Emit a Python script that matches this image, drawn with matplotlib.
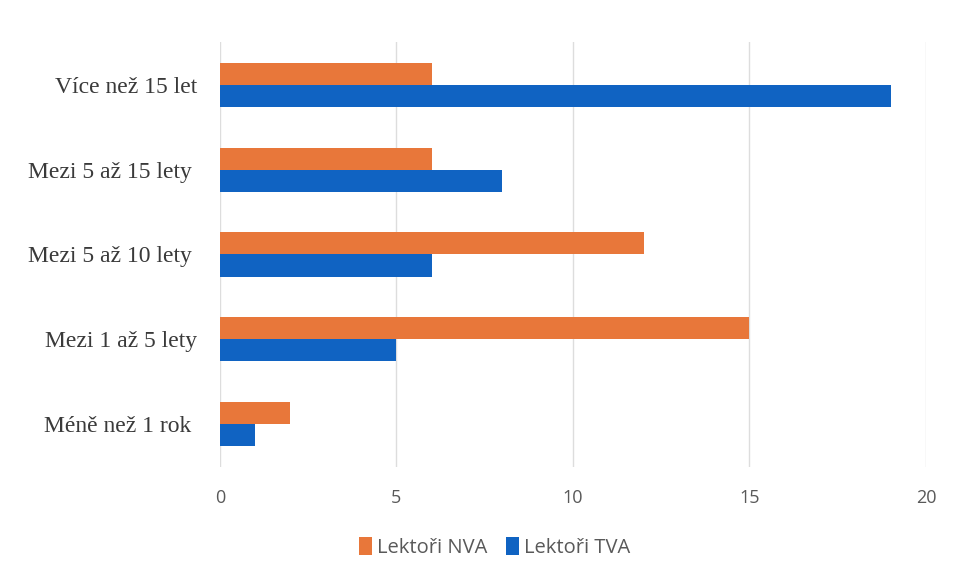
import numpy as np
import matplotlib.pyplot as plt

# kategorie (zdola nahoru) a hodnoty
kategorie = ['Méně než 1 rok ', 'Mezi 1 až 5 lety', 'Mezi 5 až 10 lety ',
             'Mezi 5 až 15 lety ', 'Více než 15 let']
lektori_nva = [2, 15, 12, 6, 6]
lektori_tva = [1, 5, 6, 8, 19]
x_ticks = [0, 5, 10, 15, 20]

barva_nva = '#E8773A'
barva_tva = '#1063C2'

fig = plt.figure(figsize=(9.6, 5.81), dpi=100)
ax = fig.add_axes([0.229, 0.197, 0.7356, 0.73])

y = np.arange(len(kategorie))
h = 0.26
ax.barh(y + h / 2, lektori_nva, height=h, color=barva_nva, label='Lektoři NVA', zorder=3)
ax.barh(y - h / 2, lektori_tva, height=h, color=barva_tva, label='Lektoři TVA', zorder=3)

ax.set_xlim(0, 20)
ax.set_ylim(-0.5, len(kategorie) - 0.5)
ax.set_xticks(x_ticks)
ax.set_yticks(y)
ax.set_yticklabels(kategorie, fontfamily='Liberation Serif', fontsize=17, color='#3A3A3A')
ax.tick_params(axis='x', labelsize=13, labelcolor='#595959', length=0, pad=16)
ax.tick_params(axis='y', length=0, pad=16)
for lbl in ax.get_xticklabels():
    lbl.set_fontfamily('Open Sans')

ax.grid(axis='x', color='#DDDDDD', linewidth=1, zorder=0)
for s in ax.spines.values():
    s.set_visible(False)

leg = fig.legend(loc='center', bbox_to_anchor=(0.515, 0.057), ncol=2, frameon=False,
                 handlelength=0.65, handleheight=1.0, handletextpad=0.25, columnspacing=0.9,
                 prop={'family': 'Open Sans', 'size': 14.5})
for t in leg.get_texts():
    t.set_color('#595959')

plt.savefig('out.png', dpi=100)
